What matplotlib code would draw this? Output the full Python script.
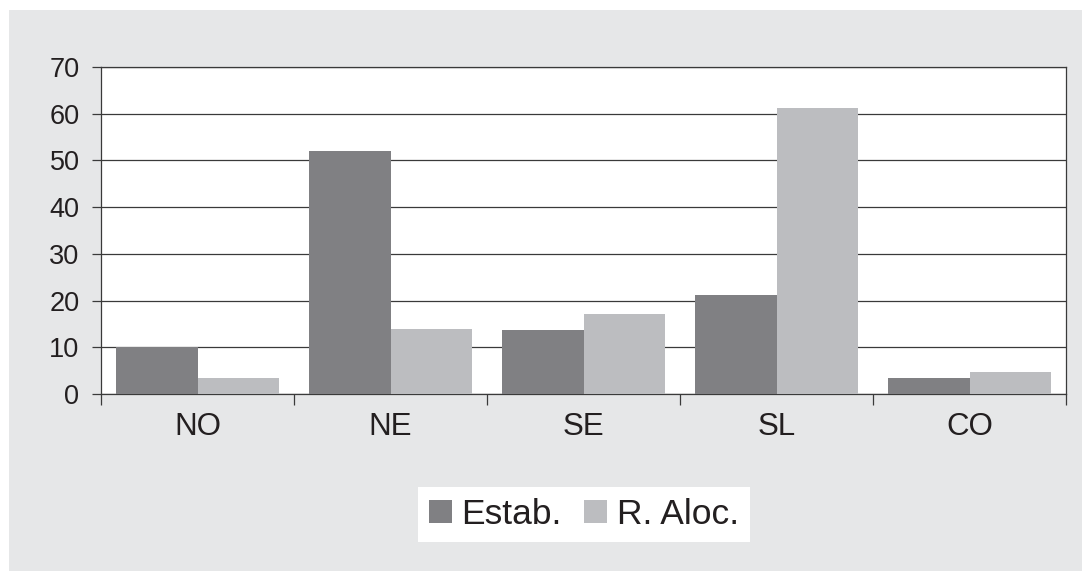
import matplotlib
matplotlib.use('Agg')
import matplotlib.pyplot as plt
import matplotlib.patches as mpatches
import numpy as np

plt.rcParams['font.family'] = ['Liberation Sans', 'DejaVu Sans']

regions = ['NO', 'NE', 'SE', 'SL', 'CO']
estab = [10.0, 52.0, 13.6, 21.2, 3.4]
raloc = [3.4, 14.0, 17.2, 61.3, 4.8]
yticks = [0, 10, 20, 30, 40, 50, 60, 70]

dark = '#808083'
light = '#bcbdc0'
bg = '#e6e7e8'
line = '#3a3a3a'

fig = plt.figure(figsize=(10.82, 5.71), dpi=100)
fig.patch.set_facecolor('white')
# grey panel, white strip on the left and top only
fig.patches.append(mpatches.Rectangle((9 / 1082, 0), 1, 1 - 10 / 571,
                                      transform=fig.transFigure,
                                      facecolor=bg, edgecolor='none', zorder=-5))

ax = fig.add_axes([101 / 1082, 1 - 394 / 571, 965 / 1082, 327 / 571])
ax.set_facecolor('white')

x = np.arange(len(regions))
w = 0.42
ax.bar(x - w / 2, estab, w, color=dark, label='Estab.', zorder=3)
ax.bar(x + w / 2, raloc, w, color=light, label='R. Aloc.', zorder=3)

ax.set_xlim(-0.5, len(regions) - 0.5)
ax.set_ylim(0, 70)
ax.set_yticks(yticks)
ax.yaxis.grid(True, color=line, linewidth=0.9, zorder=1)
ax.set_axisbelow(True)

for s in ['left', 'right', 'top', 'bottom']:
    ax.spines[s].set_color(line)
    ax.spines[s].set_linewidth(0.9)

ax.tick_params(axis='y', direction='out', length=6.5, width=0.9, color=line,
               labelsize=19.5, pad=9, labelcolor='#231f20')
ax.set_xticks(x)
ax.set_xticklabels(regions)
ax.set_xticks(np.arange(len(regions) + 1) - 0.5, minor=True)
ax.tick_params(axis='x', which='major', length=0, labelsize=22.5, pad=13,
               labelcolor='#231f20')
ax.tick_params(axis='x', which='minor', direction='out', length=8, width=0.9,
               color=line)

leg = fig.legend(loc='center', bbox_to_anchor=(584 / 1082, 1 - 514.5 / 571),
                 ncol=2, fontsize=25.5, frameon=True, fancybox=False,
                 handlelength=0.65, handleheight=0.65, handletextpad=0.27,
                 columnspacing=0.64, borderpad=0.3, borderaxespad=0)
leg.get_frame().set_facecolor('white')
leg.get_frame().set_edgecolor('none')
leg.get_frame().set_alpha(1)
for t in leg.get_texts():
    t.set_color('#231f20')

fig.savefig('out.png', dpi=100, facecolor=fig.get_facecolor())
